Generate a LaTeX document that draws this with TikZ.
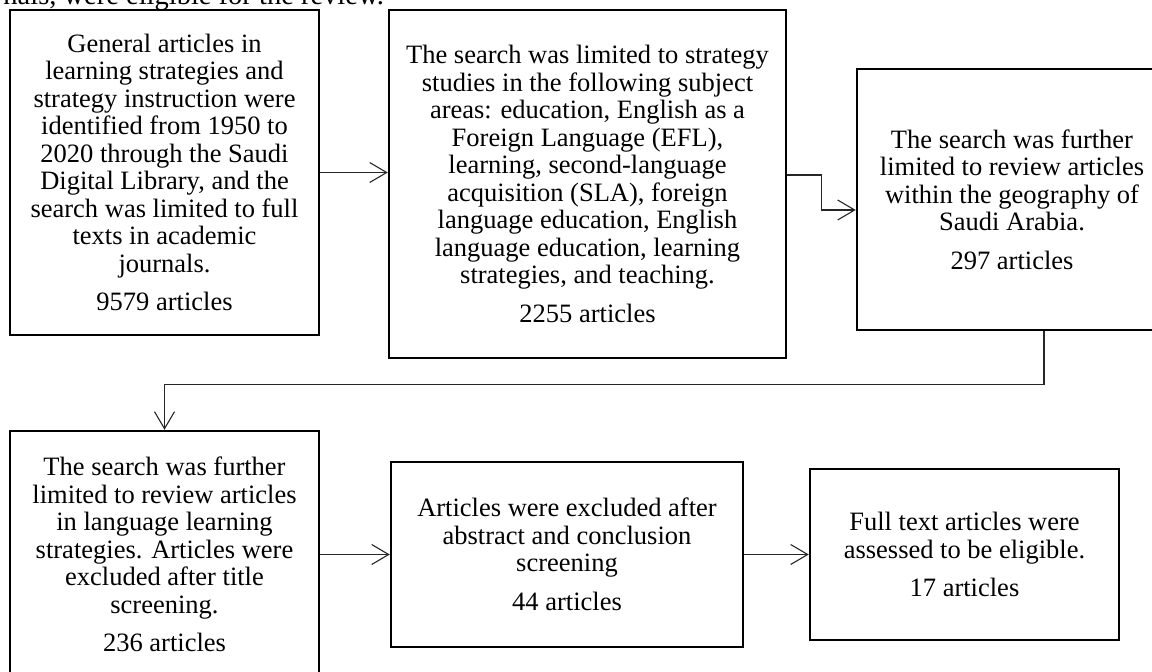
\documentclass[tikz,border=0pt]{standalone}
\usepackage{fontspec}
\setmainfont{Liberation Serif}
\usetikzlibrary{arrows.meta}
\usetikzlibrary{calc}
\def\boxfont{\fontsize{26.5}{27.5}\selectfont}
\def\topfont{\fontsize{28.5}{30}\selectfont}
\def\pagebox{(0,0) rectangle (1152,672)}
\begin{document}
\begin{tikzpicture}[x=1pt,y=-1pt,
   stage/.style={draw,line width=2.5pt,align=center,font=\boxfont,inner sep=0pt},
   link/.style={line width=1.1pt,draw=black!85,-{Straight Barb[length=17pt,width=20pt]}}]
   \useasboundingbox \pagebox;
   \clip \pagebox;
   % end of the paragraph above the figure
   \node[anchor=base east,font=\topfont,inner sep=0pt] (t0) at (384,4) {nals, were eligible for the review.};
   % first row
   \node[stage,minimum width=309pt,minimum height=325pt] (s1) at (164.5,172.5) {General articles in\\learning strategies and\\strategy instruction were\\identified from 1950 to\\2020 through the Saudi\\Digital Library, and the\\search was limited to full\\texts in academic\\journals.\\[11pt]9579 articles};
   \node[stage,minimum width=397pt,minimum height=348pt] (s2) at (587.5,184) {The search was limited to strategy\\studies in the following subject\\areas: education, English as a\\Foreign Language (EFL),\\learning, second-language\\acquisition (SLA), foreign\\language education, English\\language education, learning\\strategies, and teaching.\\[11pt]2255 articles};
   \node[stage,minimum width=310pt,minimum height=261pt] (s3) at (1012,199.5) {The search was further\\limited to review articles\\within the geography of\\Saudi Arabia.\\[11pt]297 articles};
   % second row
   \node[stage,minimum width=309pt,minimum height=247pt] (s4) at (164.5,554.5) {The search was further\\limited to review articles\\in language learning\\strategies. Articles were\\excluded after title\\screening.\\[11pt]236 articles};
   \node[stage,minimum width=352pt,minimum height=185pt] (s5) at (567,554.5) {Articles were excluded after\\abstract and conclusion\\screening\\[11pt]44 articles};
   \node[stage,minimum width=309pt,minimum height=171pt] (s6) at (964.5,554.5) {Full text articles were\\assessed to be eligible.\\[11pt]17 articles};
   \coordinate (k2) at ([xshift=-34pt,yshift=-10.5pt]s3.west);
   \draw[link] (s1.east) -- (s1.east -| s2.west);
   \draw[link] ([yshift=9pt]s2.east) -| (k2) -- ([yshift=-10.5pt]s3.west);
   \draw[link] ([xshift=32pt]s3.south) -- ++(0,53) -| (s4.north);
   \draw[link] (s4.east) -- (s4.east -| s5.west);
   \draw[link] (s5.east) -- (s6.west);
\end{tikzpicture}
\end{document}
